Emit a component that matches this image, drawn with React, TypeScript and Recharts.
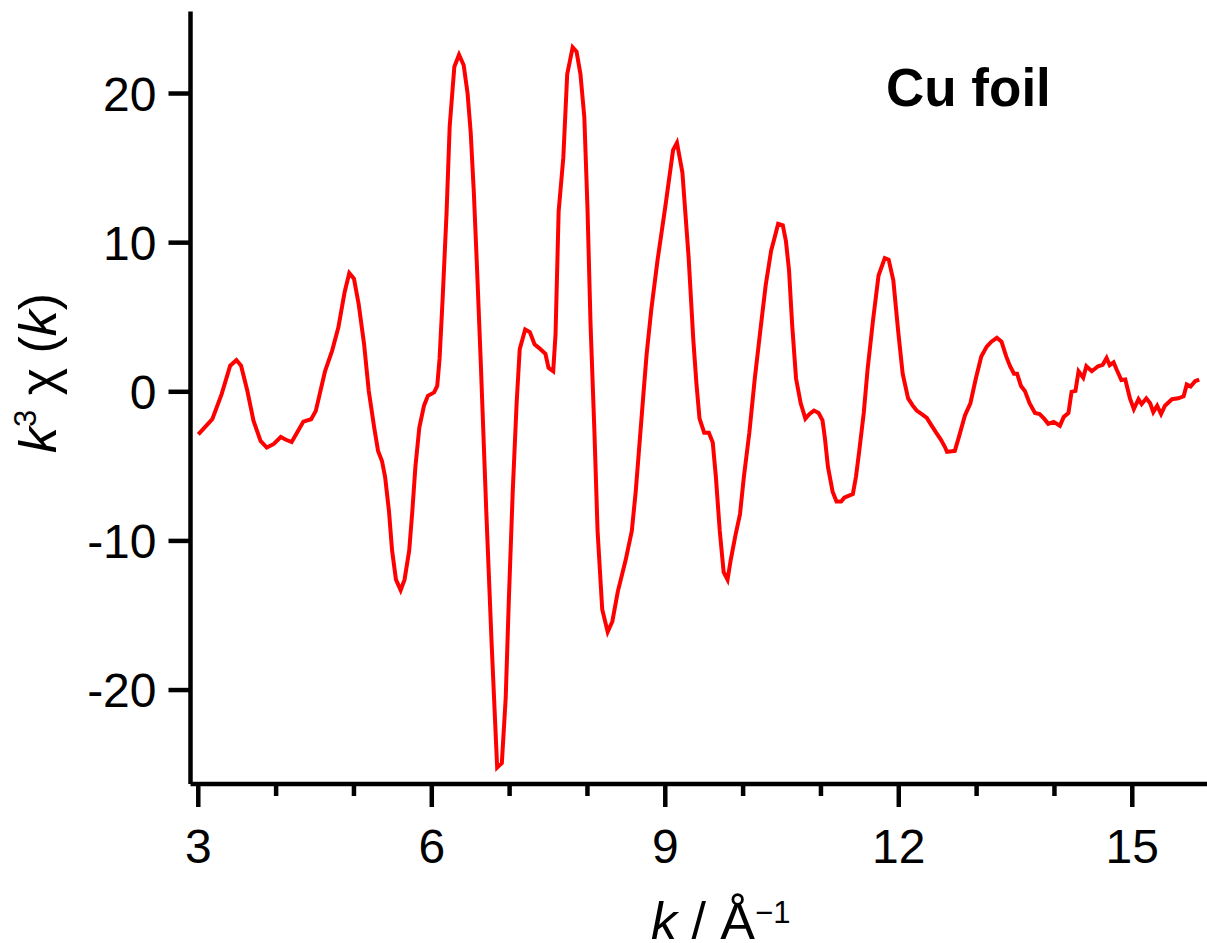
import React from "react";
import { LineChart, Line, XAxis, YAxis } from "recharts";

const kValues = [
  3.0, 3.18, 3.3, 3.41, 3.49, 3.55, 3.63, 3.71, 3.8, 3.88, 3.97, 4.06, 4.12, 4.2, 4.27, 4.35, 4.45, 4.51, 4.57, 4.63,
  4.72, 4.8, 4.88, 4.94, 5.0, 5.06, 5.13, 5.19, 5.26, 5.31, 5.36, 5.4, 5.45, 5.49, 5.54, 5.6, 5.65, 5.71, 5.75, 5.79,
  5.84, 5.9, 5.95, 6.03, 6.07, 6.1, 6.14, 6.19, 6.23, 6.29, 6.35, 6.41, 6.46, 6.5, 6.54, 6.58, 6.63, 6.7, 6.77, 6.84,
  6.9, 6.95, 6.99, 7.04, 7.09, 7.13, 7.2, 7.26, 7.32, 7.38, 7.46, 7.5, 7.56, 7.59, 7.63, 7.69, 7.74, 7.81, 7.86, 7.91,
  7.96, 8.0, 8.04, 8.09, 8.13, 8.19, 8.26, 8.32, 8.39, 8.49, 8.57, 8.62, 8.66, 8.72, 8.76, 8.82, 8.9, 9.0, 9.1, 9.15,
  9.22, 9.3, 9.36, 9.4, 9.44, 9.5, 9.56, 9.61, 9.65, 9.7, 9.75, 9.8, 9.84, 9.9, 9.96, 10.01, 10.08, 10.15, 10.23, 10.29,
  10.36, 10.41, 10.45, 10.51, 10.55, 10.59, 10.63, 10.68, 10.74, 10.8, 10.85, 10.91, 10.97, 11.02, 11.05, 11.09, 11.15,
  11.2, 11.26, 11.3, 11.36, 11.41, 11.45, 11.49, 11.55, 11.6, 11.67, 11.74, 11.82, 11.87, 11.93, 11.99, 12.05, 12.12,
  12.18, 12.23, 12.3, 12.36, 12.42, 12.48, 12.54, 12.59, 12.62, 12.72, 12.77, 12.85, 12.92, 12.99, 13.06, 13.13, 13.19,
  13.26, 13.32, 13.38, 13.43, 13.48, 13.52, 13.57, 13.62, 13.68, 13.75, 13.81, 13.87, 13.92, 13.99, 14.07, 14.12, 14.18,
  14.22, 14.27, 14.31, 14.37, 14.41, 14.48, 14.56, 14.62, 14.67, 14.71, 14.76, 14.8, 14.86, 14.91, 14.97, 15.02, 15.08,
  15.12, 15.18, 15.23, 15.27, 15.32, 15.37, 15.42, 15.51, 15.59, 15.66, 15.7, 15.75, 15.81, 15.86,
];

const chiValues = [
  -2.85, -1.84, -0.16, 1.75, 2.13, 1.75, 0.07, -1.95, -3.3, -3.74, -3.5, -3.03, -3.2, -3.37, -2.73, -2.0, -1.84, -1.28, 0.07, 1.41,
  2.76, 4.32, 6.68, 7.96, 7.58, 5.9, 3.21, 0.07, -2.4, -3.97, -4.64, -5.7, -8.0, -10.65, -12.6, -13.3, -12.6, -10.65, -8.0, -5.0,
  -2.4, -0.93, -0.27, -0.04, 0.39, 2.2, 6.3, 12.0, 17.8, 21.8, 22.6, 21.9, 20.0, 17.4, 13.4, 8.47, 1.88, -8.0, -17.0, -25.2,
  -24.9, -20.5, -13.95, -6.7, -0.77, 2.86, 4.18, 4.0, 3.19, 2.93, 2.54, 1.6, 1.38, 3.85, 12.1, 15.7, 21.3, 23.1, 22.8, 21.3,
  18.4, 12.4, 4.5, -2.74, -9.33, -14.6, -16.1, -15.4, -13.4, -11.3, -9.33, -6.7, -4.06, -0.1, 2.5, 5.5, 8.8, 12.4, 16.2, 16.7,
  14.7, 9.0, 3.5, 0.56, -1.8, -2.74, -2.74, -3.4, -5.7, -9.33, -12.1, -12.6, -11.3, -9.66, -8.2, -5.7, -2.74, 0.89, 4.5, 7.15,
  9.46, 10.44, 11.27, 11.17, 10.1, 8.14, 4.5, 0.89, -0.77, -1.8, -1.5, -1.26, -1.42, -1.92, -3.07, -5.04, -6.7,
  -7.36, -7.36, -7.1, -6.96, -6.86, -5.7, -4.06, -1.42, 1.55, 4.84, 7.8, 8.96, 8.86, 7.48, 4.18, 1.21, -0.44,
  -0.93, -1.26, -1.52, -1.75, -2.25, -2.74, -3.2, -3.67, -4.03, -3.96, -3.07, -1.59, -0.77, 0.89, 2.37, 3.03, 3.36,
  3.62, 3.36, 2.37, 1.71, 1.21, 1.21, 0.39, 0.06, -0.77, -1.42, -1.49, -1.82, -2.15, -2.02, -2.28, -1.68, -1.42,
  0.0, 0.06, 1.38, 0.95, 1.71, 1.38, 1.71, 1.81, 2.27, 1.78, 1.97, 1.48, 0.79, 0.82, -0.44, -1.16, -0.5,
  -0.83, -0.44, -0.77, -1.36, -0.93, -1.49, -0.93, -0.5, -0.44, -0.3, 0.49, 0.36, 0.72, 0.82,
];

const xTicks = [3, 4, 5, 6, 7, 8, 9, 10, 11, 12, 13, 14, 15];
const xMajorTicks = [3, 6, 9, 12, 15];
const yTicks = [-20, -10, 0, 10, 20];
const xDomain = [2.9, 15.96];
const yDomain = [-26.3, 25.5];
const panelLabel = "Cu foil";

const data = kValues.map((k, i) => ({ k, chi: chiValues[i] }));

const FONT = "'Liberation Sans', Arial, Helvetica, sans-serif";
const AXIS_W = 4.5;

const XTick = (props: any) => {
  const { x, y, payload } = props;
  const v = payload.value;
  const major = xMajorTicks.includes(v);
  return (
    <g>
      <line x1={x} x2={x} y1={y} y2={y + (major ? 23 : 12)} stroke="#000" strokeWidth={AXIS_W} />
      {major && (
        <text x={x} y={y + 79} textAnchor="middle" fontSize={48} fontFamily={FONT} fill="#000">
          {v}
        </text>
      )}
    </g>
  );
};

const XLabel = () => (
  <text x={651} y={939} fontSize={52} fontFamily={FONT} fill="#000">
    <tspan fontStyle="italic">k</tspan>
    <tspan> / Å</tspan>
    <tspan dy={-16} fontSize={31}>−1</tspan>
  </text>
);

const YLabel = () => (
  <text
    x={56}
    y={373}
    transform="rotate(-90 56 373)"
    textAnchor="middle"
    fontSize={52}
    fontFamily={FONT}
    fill="#000"
  >
    <tspan fontStyle="italic">k</tspan>
    <tspan dy={-20} fontSize={31}>3</tspan>
    <tspan dy={20}> χ (</tspan>
    <tspan fontStyle="italic">k</tspan>
    <tspan>)</tspan>
  </text>
);

export default function App() {
  return (
    <div style={{ position: "absolute", left: 0, top: 0, width: 1207, height: 943, background: "#fff" }}>
      <LineChart
        width={1207}
        height={943}
        data={data}
        margin={{ top: 11.5, right: 0, bottom: 0, left: 0 }}
      >
        <XAxis
          dataKey="k"
          type="number"
          domain={xDomain}
          ticks={xTicks}
          interval={0}
          allowDataOverflow
          height={159}
          tickSize={0}
          tickMargin={0}
          tickLine={false}
          tick={<XTick />}
          axisLine={{ stroke: "#000", strokeWidth: AXIS_W }}
          label={{ content: () => <XLabel /> }}
        />
        <XAxis
          xAxisId="top"
          orientation="top"
          dataKey="k"
          type="number"
          domain={xDomain}
          allowDataOverflow
          height={0}
          tick={false}
          tickLine={false}
          axisLine={{ stroke: "#000", strokeWidth: AXIS_W }}
        />
        <YAxis
          type="number"
          domain={yDomain}
          ticks={yTicks}
          interval={0}
          allowDataOverflow
          width={190.5}
          tickSize={22}
          tickMargin={12}
          tickLine={{ stroke: "#000", strokeWidth: AXIS_W }}
          axisLine={{ stroke: "#000", strokeWidth: AXIS_W }}
          tick={{ fontSize: 48, fontFamily: FONT, fill: "#000" }}
          label={{ content: () => <YLabel /> }}
        />
        <Line
          dataKey="chi"
          type="linear"
          stroke="#ff0000"
          strokeWidth={4}
          dot={false}
          isAnimationActive={false}
        />
      </LineChart>
      <svg
        width={1207}
        height={943}
        style={{ position: "absolute", left: 0, top: 0, pointerEvents: "none" }}
      >
        <text x={886} y={106} fontSize={53} fontWeight="bold" fontFamily={FONT} fill="#000">
          {panelLabel}
        </text>
      </svg>
    </div>
  );
}
